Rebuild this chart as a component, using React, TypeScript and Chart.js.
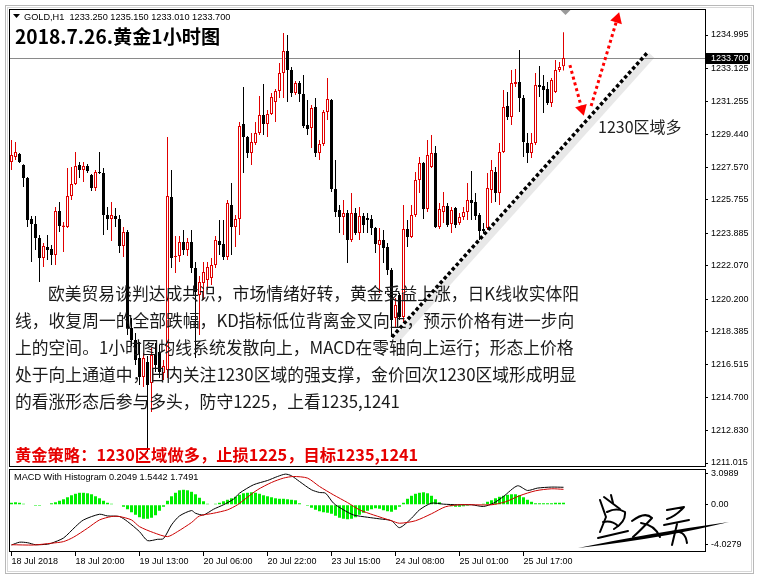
import React, { useEffect, useRef } from 'react';
import { Chart, registerables } from 'chart.js';
Chart.register(...registerables);

// ---------- DATA ----------
const OPEN = [
  1227.88, 1228.16, 1228.33, 1227.71, 1226.98, 1224.69, 1224.41, 1223.62, 1222.50, 1223.12,
  1223.01, 1222.67, 1225.13, 1224.24, 1224.24, 1225.97, 1226.65, 1227.71, 1227.43, 1227.66,
  1227.15, 1226.42, 1227.32, 1227.26, 1224.91, 1224.69, 1224.85, 1224.69, 1223.17, 1223.96,
  1218.58, 1217.91, 1216.90, 1215.83, 1216.67, 1215.50, 1217.07, 1217.23, 1216.06, 1216.22,
  1225.92, 1222.56, 1222.61, 1223.40, 1222.95, 1223.40, 1221.94, 1220.43, 1221.10, 1221.27,
  1221.38, 1222.11, 1223.45, 1223.29, 1222.56, 1225.47, 1224.24, 1224.69, 1230.01, 1229.28,
  1228.38, 1228.94, 1229.50, 1230.51, 1230.01, 1230.57, 1231.24, 1231.86, 1232.87, 1234.10,
  1233.03, 1231.75, 1232.31, 1231.69, 1229.95, 1229.78, 1230.96, 1228.38, 1228.89, 1230.68,
  1231.35, 1226.37, 1225.19, 1224.80, 1225.02, 1223.51, 1225.02, 1223.90, 1224.85, 1224.74,
  1224.69, 1224.18, 1223.23, 1223.51, 1223.12, 1221.83, 1219.14, 1220.43, 1219.20, 1224.13,
  1223.68, 1224.91, 1226.87, 1227.82, 1225.25, 1227.60, 1228.38, 1224.24, 1225.08, 1225.41,
  1224.41, 1225.30, 1224.46, 1224.80, 1225.08, 1225.75, 1225.64, 1224.91, 1224.13, 1224.18,
  1226.31, 1227.32, 1226.14, 1228.44, 1231.02, 1230.40, 1232.25, 1232.36, 1231.47, 1228.94,
  1228.38, 1228.94, 1232.19, 1232.14, 1231.97, 1231.19, 1231.80, 1233.03, 1233.25,
];
const HIGH = [
  1229.11, 1229.00, 1228.38, 1227.75, 1227.04, 1224.85, 1224.85, 1223.79, 1223.34, 1223.79,
  1223.23, 1225.36, 1225.64, 1224.52, 1227.54, 1227.60, 1228.44, 1227.88, 1227.88, 1227.77,
  1227.21, 1227.43, 1228.44, 1227.54, 1225.36, 1225.64, 1225.30, 1224.91, 1224.24, 1224.07,
  1219.14, 1218.30, 1217.79, 1217.18, 1217.01, 1217.46, 1217.74, 1217.63, 1216.79, 1229.28,
  1227.43, 1223.73, 1223.73, 1224.07, 1223.62, 1224.07, 1222.28, 1221.49, 1222.28, 1222.28,
  1222.50, 1223.73, 1224.63, 1224.63, 1225.75, 1226.70, 1224.91, 1230.12, 1232.08, 1229.34,
  1229.50, 1230.12, 1231.58, 1232.25, 1230.79, 1231.75, 1231.97, 1233.43, 1235.11, 1234.99,
  1233.20, 1232.42, 1232.42, 1232.75, 1231.35, 1231.07, 1231.47, 1229.11, 1230.79, 1232.59,
  1231.41, 1227.99, 1225.47, 1225.75, 1225.19, 1226.14, 1225.30, 1225.36, 1225.02, 1225.02,
  1224.91, 1224.24, 1224.18, 1224.07, 1223.34, 1221.94, 1220.26, 1220.54, 1225.47, 1224.63,
  1225.47, 1227.32, 1228.16, 1227.88, 1229.11, 1229.39, 1228.78, 1225.58, 1226.20, 1225.58,
  1225.36, 1225.36, 1225.02, 1225.36, 1226.70, 1227.38, 1226.14, 1225.02, 1224.46, 1227.26,
  1227.99, 1227.60, 1228.94, 1231.91, 1231.80, 1233.03, 1233.09, 1234.15, 1231.63, 1229.50,
  1229.50, 1232.87, 1233.26, 1232.75, 1232.36, 1232.59, 1233.59, 1233.48, 1235.15,
];
const LOW = [
  1227.43, 1227.99, 1227.82, 1226.48, 1224.24, 1222.28, 1222.95, 1221.16, 1222.00, 1222.39,
  1222.11, 1222.11, 1223.96, 1222.84, 1224.18, 1225.75, 1226.59, 1226.98, 1226.76, 1227.26,
  1226.25, 1226.25, 1227.21, 1223.79, 1224.07, 1223.45, 1224.24, 1222.78, 1222.56, 1218.19,
  1217.57, 1216.51, 1215.39, 1215.27, 1211.63, 1213.87, 1216.11, 1215.78, 1215.67, 1215.78,
  1221.94, 1221.66, 1222.28, 1222.67, 1222.61, 1221.66, 1216.90, 1218.19, 1220.15, 1220.71,
  1220.99, 1221.94, 1222.67, 1222.39, 1222.39, 1222.67, 1223.12, 1223.79, 1227.26, 1228.10,
  1227.71, 1228.83, 1229.39, 1229.39, 1229.28, 1230.51, 1230.12, 1231.47, 1231.47, 1231.24,
  1231.52, 1231.63, 1231.24, 1229.78, 1229.39, 1228.66, 1228.16, 1227.99, 1228.78, 1230.23,
  1226.20, 1224.80, 1223.90, 1223.79, 1222.22, 1223.40, 1223.79, 1223.51, 1223.90, 1223.90,
  1223.79, 1222.78, 1220.54, 1222.22, 1221.55, 1218.07, 1218.64, 1219.03, 1218.92, 1223.12,
  1223.62, 1224.80, 1226.14, 1224.69, 1225.08, 1227.54, 1224.18, 1224.13, 1224.46, 1224.24,
  1223.90, 1224.18, 1224.35, 1224.63, 1224.63, 1224.63, 1224.63, 1223.51, 1223.90, 1224.07,
  1225.58, 1225.64, 1225.47, 1228.38, 1230.23, 1229.95, 1232.08, 1230.68, 1228.16, 1227.82,
  1228.10, 1228.83, 1231.52, 1230.63, 1231.07, 1230.96, 1231.75, 1232.92, 1233.01,
];
const CLOSE = [
  1228.27, 1228.44, 1227.88, 1226.98, 1224.63, 1224.41, 1223.62, 1222.50, 1223.17, 1222.95,
  1222.67, 1225.13, 1224.29, 1224.32, 1225.97, 1226.65, 1227.66, 1227.43, 1227.66, 1227.38,
  1226.42, 1227.32, 1227.26, 1224.91, 1224.69, 1224.91, 1224.69, 1223.17, 1223.96, 1218.58,
  1217.91, 1216.79, 1215.83, 1216.90, 1215.39, 1217.07, 1216.51, 1216.11, 1216.45, 1225.97,
  1222.50, 1222.61, 1223.40, 1222.95, 1223.40, 1221.94, 1220.60, 1221.16, 1221.72, 1222.00,
  1222.11, 1223.51, 1223.23, 1222.56, 1225.58, 1224.24, 1224.69, 1229.90, 1229.28, 1228.38,
  1229.00, 1229.50, 1230.51, 1230.01, 1230.57, 1231.52, 1231.86, 1232.87, 1234.10, 1233.03,
  1231.75, 1232.31, 1231.69, 1229.90, 1229.73, 1230.91, 1228.38, 1228.89, 1230.68, 1231.41,
  1226.37, 1225.08, 1224.80, 1225.02, 1223.51, 1225.02, 1223.90, 1224.85, 1224.35, 1224.63,
  1224.18, 1223.29, 1223.51, 1223.06, 1221.83, 1219.03, 1219.87, 1219.20, 1224.13, 1223.68,
  1224.91, 1226.87, 1227.82, 1225.25, 1228.27, 1228.38, 1224.24, 1225.25, 1225.41, 1224.35,
  1225.19, 1224.35, 1224.80, 1225.08, 1225.75, 1225.58, 1224.85, 1224.01, 1224.01, 1226.42,
  1227.43, 1226.14, 1228.44, 1230.96, 1230.40, 1232.31, 1232.36, 1231.47, 1229.00, 1228.38,
  1228.94, 1232.19, 1232.08, 1231.91, 1231.19, 1232.47, 1233.03, 1233.20, 1233.70,
];

// MACD histogram, one value per bar
const HIST = [
  0.2, 0.25, 0.2, 0.1, 0.05, -0.05, -0.1, -0.1, -0.05, 0.05, 0.15,
  0.25, 0.4, 0.55, 0.75, 0.95, 1.1, 1.2, 1.2, 1.15, 1.05, 0.85, 0.65, 0.4, 0.2, 0.1,
  0.05, 0.0,
  -0.2, -0.45, -0.75, -1.0, -1.25, -1.4, -1.4, -1.3, -1.05, -0.6,
  -0.2,
  0.4, 0.85, 1.2, 1.45, 1.5, 1.45, 1.3, 1.05, 0.7, 0.35,
  0.1, 0.05, 0.1,
  0.2, 0.35, 0.5, 0.65, 0.8, 1.0, 1.15, 1.2, 1.25, 1.2, 1.1, 0.95, 0.85, 0.75, 0.65, 0.6, 0.6, 0.55, 0.5, 0.45, 0.15, 0.05,
  -0.1, -0.3, -0.5, -0.65, -0.75, -0.8, -0.9, -1.1, -1.3, -1.4, -1.45, -1.4, -1.25, -1.0, -0.8, -0.6, -0.45, -0.35, -0.4, -0.55, -0.65, -0.7, -0.5, -0.2,
  0.2, 0.6, 0.9, 1.1, 1.2, 1.25, 1.15, 0.9, 0.55, 0.25, 0.05,
  -0.05, -0.15, -0.2, -0.2, -0.15, -0.1, -0.05, 0.0, 0.05, 0.1,
  0.3, 0.45, 0.65, 0.8, 0.9, 1.0, 1.05, 1.05, 0.95, 0.75, 0.5, 0.3, 0.15,
  0.15, 0.15, 0.15, 0.15, 0.2, 0.2, 0.2049,
];

// MACD main line (bar index, value) read at sample bars
const MACD_BARS = [0, 2, 4, 6, 9, 10, 13, 16, 18, 22, 24, 27, 29, 32, 34, 36.5, 38, 40, 42, 45, 46, 48, 50.5, 53, 55.5, 57, 60.5, 64, 66.5, 68.5, 70, 72, 75, 77, 78.5, 80.5, 83, 85.5, 89, 92, 95, 97, 100, 102, 105, 108, 111.5, 115, 118, 120.5, 123, 126.5, 129, 131.5, 135, 138];
const MACD_VALUES = [-4.03, -3.75, -3.8, -4.0, -3.95, -3.85, -3.33, -2.19, -1.52, -0.95, -1.12, -1.18, -1.68, -2.69, -3.59, -3.46, -3.39, -2.02, -1.12, -0.58, -0.85, -1.02, -0.45, 0, 0.56, 1.16, 2.0, 2.43, 2.83, 3.07, 2.9, 2.33, 1.5, 1.23, 1.16, 0.16, -0.51, -1.02, -1.25, -1.41, -1.6, -2.29, -1.35, -0.51, 0.16, 0.06, 0, 0, -0.17, 0.16, 0.83, 1.9, 1.43, 1.67, 1.77, 1.7491];
// Signal line
const SIGNAL_BARS = [0, 5.5, 10, 13, 15.5, 19, 22, 25, 27, 30, 32, 35.5, 39, 41.5, 45, 47, 50.5, 54, 56.5, 59, 61.5, 65, 68, 70.5, 74, 77, 80.5, 84, 87, 90.5, 95, 97, 101, 105, 108.5, 112, 120, 123.5, 127, 131, 135, 138];
const SIGNAL_VALUES = [-4.0, -4.03, -3.85, -3.69, -3.25, -2.35, -1.52, -1.18, -1.18, -1.52, -2.19, -2.79, -3.19, -2.69, -1.78, -1.12, -0.85, -0.51, 0, 0.76, 1.5, 2.23, 2.67, 2.83, 2.67, 1.83, 0.99, 0.22, -0.51, -1.02, -1.6, -1.85, -1.6, -0.9, -0.2, 0, 0, 0.3, 0.9, 1.4, 1.6, 1.5442];

const TIME_TICK_BARS = [0, 16, 32, 48, 64, 80, 96, 112, 128];
const TIME_TICK_LABELS = ['18 Jul 2018', '18 Jul 20:00', '19 Jul 13:00', '20 Jul 06:00', '20 Jul 22:00', '23 Jul 15:00', '24 Jul 08:00', '25 Jul 01:00', '25 Jul 17:00'];
const PRICE_TICKS = [1234.995, 1233.125, 1231.255, 1229.44, 1227.57, 1225.755, 1223.885, 1222.07, 1220.2, 1218.385, 1216.515, 1214.7, 1212.83, 1211.015];
const MACD_TICKS = [3.0989, 0, -4.0279];
const MACD_TICK_LABELS = ['3.0989', '0.00', '-4.0279'];
const HEADER_SYMBOL = 'GOLD,H1';
const HEADER_OHLC = ['1233.250', '1235.150', '1233.010', '1233.700'];
const MACD_LEGEND = ['0.2049', '1.5442', '1.7491'];

// annotations in chart coordinates (bar index, price)
const TREND_BARS = [95.1, 159.1];
const TREND_PRICES = [1218.07, 1234.04];
const ARROW_DOWN_BARS = [139.6, 142.6];
const ARROW_DOWN_PRICES = [1233.31, 1230.85];
const ARROW_UP_BARS = [144.9, 151.4];
const ARROW_UP_PRICES = [1231.02, 1235.89];

const TITLE = '2018.7.26.黄金1小时图';
const PARAGRAPH = [
  '欧美贸易谈判达成共识，市场情绪好转，黄金受益上涨，日K线收实体阳',
  '线，收复周一的全部跌幅，KD指标低位背离金叉向上，预示价格有进一步向',
  '上的空间。1小时图均线系统发散向上，MACD在零轴向上运行；形态上价格',
  '处于向上通道中，日内关注1230区域的强支撑，金价回次1230区域形成明显',
  '的看涨形态后参与多头，防守1225，上看1235,1241',
];
const STRATEGY = '黄金策略：1230区域做多，止损1225，目标1235,1241';
const ZONE_NOTE = '1230区域多';

// ---------- STYLE ----------
const RED = '#e00000';
const AXIS_FONT = { family: 'Liberation Sans', size: 9 };
const CJK = "'Noto Sans CJK SC', sans-serif";

const pts = (xs: number[], ys: number[]) => xs.map((x, i) => ({ x, y: ys[i] }));
const isBull = (i: number) => CLOSE[i] >= OPEN[i];

const decoPlugin = {
  id: 'deco',
  beforeDatasetsDraw(chart: any) {
    const { ctx, scales } = chart;
    const x = scales.x, y = scales.y;
    const py = Math.round(y.getPixelForValue(CLOSE[CLOSE.length - 1])) + 0.5;
    ctx.save();
    ctx.strokeStyle = '#8a8a8a';
    ctx.lineWidth = 1;
    ctx.beginPath();
    ctx.moveTo(x.left, py);
    ctx.lineTo(x.right, py);
    ctx.stroke();
    ctx.restore();
  },
  afterDraw(chart: any) {
    const { ctx, scales } = chart;
    const x = scales.x, y = scales.y, y2 = scales.y2;
    ctx.save();
    // outer window frame
    ctx.strokeStyle = '#b8b8b8';
    ctx.lineWidth = 1;
    ctx.strokeRect(5.5, 5.5, 748, 568);
    ctx.strokeStyle = '#d8d8d8';
    ctx.strokeRect(7.5, 7.5, 744, 564);
    // pane frames
    ctx.strokeStyle = '#000';
    ctx.strokeRect(x.left + 0.5, y.top + 0.5, x.right - x.left, y.bottom - y.top - 1);
    ctx.strokeRect(x.left + 0.5, y2.top + 2.5, x.right - x.left, y2.bottom - y2.top - 3);
    // current price box
    const py = Math.round(y.getPixelForValue(CLOSE[CLOSE.length - 1]));
    ctx.fillStyle = '#000';
    ctx.fillRect(x.right + 1, py - 5, 44, 11);
    ctx.fillStyle = '#fff';
    ctx.font = '9px "Liberation Sans"';
    ctx.textBaseline = 'middle';
    ctx.textAlign = 'left';
    ctx.fillText(CLOSE[CLOSE.length - 1].toFixed(3), x.right + 6, py + 0.5);
    // chart shift marker
    const sx = x.getPixelForValue(CLOSE.length - 1) + 2;
    ctx.fillStyle = '#9a9a9a';
    ctx.beginPath();
    ctx.moveTo(sx - 5, y.top + 1);
    ctx.lineTo(sx + 5, y.top + 1);
    ctx.lineTo(sx, y.top + 6);
    ctx.closePath();
    ctx.fill();
    // header menu triangle
    ctx.fillStyle = '#000';
    ctx.beginPath();
    ctx.moveTo(13, 14);
    ctx.lineTo(20, 14);
    ctx.lineTo(16.5, 18);
    ctx.closePath();
    ctx.fill();
    ctx.restore();
  },
};

export default function App() {
  const ref = useRef<HTMLCanvasElement | null>(null);
  useEffect(() => {
    if (!ref.current) return;
    const n = OPEN.length;
    const idx = Array.from({ length: n }, (_, i) => i);
    const chart = new Chart(ref.current, {
      type: 'bar',
      plugins: [decoPlugin],
      data: {
        datasets: [
          {
            type: 'bar', label: 'wick', xAxisID: 'x', yAxisID: 'y',
            data: idx.map((i) => ({ x: i, y: [LOW[i], HIGH[i]] })) as any,
            backgroundColor: idx.map((i) => (isBull(i) ? RED : '#000')),
            borderWidth: 0, barThickness: 1, grouped: false, inflateAmount: 0, order: 8,
          },
          {
            type: 'bar', label: 'body', xAxisID: 'x', yAxisID: 'y',
            data: idx.map((i) => ({ x: i, y: [OPEN[i], CLOSE[i]] })) as any,
            backgroundColor: idx.map((i) => (isBull(i) ? '#ffffff' : '#000')),
            borderColor: idx.map((i) => (isBull(i) ? RED : '#000')),
            borderWidth: 1, borderSkipped: false, barThickness: 3, minBarLength: 1,
            grouped: false, inflateAmount: 0, order: 7,
          },
          {
            type: 'bar', label: 'hist', xAxisID: 'x', yAxisID: 'y2',
            data: HIST.map((v, i) => ({ x: i, y: v })) as any,
            backgroundColor: '#00ee00', borderWidth: 0, barThickness: 3,
            grouped: false, inflateAmount: 0, order: 9,
          },
          {
            type: 'line', label: 'macd', xAxisID: 'x', yAxisID: 'y2',
            data: pts(MACD_BARS, MACD_VALUES) as any,
            borderColor: '#000', borderWidth: 1, pointRadius: 0, tension: 0.25, order: 6,
          },
          {
            type: 'line', label: 'signal', xAxisID: 'x', yAxisID: 'y2',
            data: pts(SIGNAL_BARS, SIGNAL_VALUES) as any,
            borderColor: '#cc0000', borderWidth: 1, pointRadius: 0, tension: 0.25, order: 5,
          },
          {
            type: 'line', label: 'trendShadow', xAxisID: 'x', yAxisID: 'y',
            data: pts(TREND_BARS.map((b) => b + 0.95), TREND_PRICES.map((p) => p - 0.19)) as any,
            borderColor: 'rgba(110,110,110,0.16)', borderWidth: 7, pointRadius: 0, order: 4,
          },
          {
            type: 'line', label: 'trend', xAxisID: 'x', yAxisID: 'y',
            data: pts(TREND_BARS, TREND_PRICES) as any,
            borderColor: '#000', borderWidth: 3.5, borderDash: [3.5, 2.5], borderCapStyle: 'butt',
            pointRadius: 0, order: 3,
          },
          {
            type: 'line', label: 'arrowDown', xAxisID: 'x', yAxisID: 'y',
            data: pts(ARROW_DOWN_BARS, ARROW_DOWN_PRICES) as any,
            borderColor: '#ff0000', borderWidth: 3, borderDash: [3, 3],
            pointRadius: [0, 7], pointStyle: 'triangle', pointRotation: [0, 164],
            pointBackgroundColor: '#ff0000', pointBorderColor: '#ff0000', pointBorderWidth: 0, order: 2,
          },
          {
            type: 'line', label: 'arrowUp', xAxisID: 'x', yAxisID: 'y',
            data: pts(ARROW_UP_BARS, ARROW_UP_PRICES) as any,
            borderColor: '#ff0000', borderWidth: 3, borderDash: [3, 3],
            pointRadius: [0, 7], pointStyle: 'triangle', pointRotation: [0, 17],
            pointBackgroundColor: '#ff0000', pointBorderColor: '#ff0000', pointBorderWidth: 0, order: 1,
          },
        ] as any,
      },
      options: {
        responsive: false,
        animation: false,
        devicePixelRatio: 1,
        events: [],
        layout: { padding: { left: 9, top: 9, right: 5, bottom: 7 } },
        plugins: { legend: { display: false }, tooltip: { enabled: false } },
        scales: {
          x: {
            type: 'linear', position: 'bottom', min: -0.625, max: 173.375, offset: false,
            afterFit: (s: any) => { s.height = 20; },
            afterBuildTicks: (s: any) => { s.ticks = TIME_TICK_BARS.map((v) => ({ value: v })); },
            grid: { display: true, offset: false, drawOnChartArea: false, drawTicks: true, tickLength: 4, color: '#000' },
            border: { display: false },
            ticks: {
              autoSkip: false, maxRotation: 0, minRotation: 0, align: 'start', padding: 0,
              color: '#000', font: AXIS_FONT,
              callback: (v: any) => {
                const k = TIME_TICK_BARS.indexOf(Number(v));
                return k >= 0 ? TIME_TICK_LABELS[k] : '';
              },
            },
          },
          y: {
            type: 'linear', position: 'right', stack: 'panes', stackWeight: 458,
            min: 1210.791, max: 1236.452,
            afterFit: (s: any) => { s.width = 50; },
            afterBuildTicks: (s: any) => { s.ticks = PRICE_TICKS.map((v) => ({ value: v })); },
            grid: { display: true, drawOnChartArea: false, drawTicks: true, tickLength: 3, color: '#000' },
            border: { display: false },
            ticks: {
              autoSkip: false, padding: 3, color: '#000', font: AXIS_FONT,
              callback: (v: any) => Number(v).toFixed(3),
            },
          },
          y2: {
            type: 'linear', position: 'right', stack: 'panes', stackWeight: 85,
            min: -4.7306, max: 3.7816,
            afterFit: (s: any) => { s.width = 50; },
            afterBuildTicks: (s: any) => { s.ticks = MACD_TICKS.map((v) => ({ value: v })); },
            grid: { display: true, drawOnChartArea: false, drawTicks: true, tickLength: 3, color: '#000' },
            border: { display: false },
            ticks: {
              autoSkip: false, padding: 3, color: '#000', font: AXIS_FONT,
              callback: (v: any) => {
                const k = MACD_TICKS.indexOf(Number(v));
                return k >= 0 ? MACD_TICK_LABELS[k] : '';
              },
            },
          },
        },
      } as any,
    });
    return () => chart.destroy();
  }, []);

  const abs = (l: number, t: number, extra: any = {}) => ({
    position: 'absolute' as const, left: l, top: t, whiteSpace: 'nowrap' as const, margin: 0, ...extra,
  });

  return (
    <div style={{ position: 'fixed', left: 0, top: 0, width: 760, height: 579, background: '#fff', overflow: 'hidden' }}>
      <canvas ref={ref} width={760} height={579} style={{ position: 'absolute', left: 0, top: 0, width: 760, height: 579 }} />
      <div style={abs(24, 12, { font: '9.2px "Liberation Sans"', lineHeight: '11px', color: '#000' })}>
        {HEADER_SYMBOL}&nbsp;&nbsp;{HEADER_OHLC.join(' ')}
      </div>
      <div style={abs(15, 26, { fontFamily: CJK, fontWeight: 700, fontSize: 19.2, lineHeight: '20px', color: '#000' })}>{TITLE}</div>
      {PARAGRAPH.map((line, k) => (
        <div key={k} style={abs(k === 0 ? 48 : 15, 280 + k * 27, { fontFamily: CJK, fontSize: 16.8, lineHeight: '27px', color: '#1a1a1a' })}>{line}</div>
      ))}
      <div style={abs(15, 441, { fontFamily: CJK, fontWeight: 700, fontSize: 16.3, lineHeight: '27px', color: '#e60000' })}>{STRATEGY}</div>
      <div style={abs(598, 118, { fontFamily: CJK, fontSize: 16, lineHeight: '16px', color: '#222' })}>{ZONE_NOTE}</div>
      <div style={abs(14, 472, { font: '9.2px "Liberation Sans"', lineHeight: '11px', color: '#000' })}>
        MACD With Histogram {MACD_LEGEND.join(' ')}
      </div>
      <svg width={760} height={579} viewBox="0 0 760 579" style={{ position: 'absolute', left: 0, top: 0 }}>
        <g fill="none" stroke="#000" strokeWidth={2} strokeLinecap="round" strokeLinejoin="round">
          <path d="M600 500 L606 517 L600 532" />
          <path d="M604 497 L620 509" />
          <path d="M611 495 L613 503" />
          <path d="M607 512 Q617 507 625 512 Q626 522 614 529" />
          <path d="M603 522 Q612 520 618 526" />
          <path d="M598 538 L628 531" />
          <path d="M632 521 Q645 511 652 518 Q641 530 633 537" />
          <path d="M641 523 Q655 525 660 537" />
          <path d="M667 510 L684 507 Q676 516 667 519" />
          <path d="M664 525 L689 520" />
          <path d="M677 524 L672 545" />
          <path d="M672 532 Q685 529 687 543" />
        </g>
        <path d="M578 548 Q650 533 729 522 Q700 529 668 535 Q622 543 578 548 Z" fill="#000" />
      </svg>
    </div>
  );
}
